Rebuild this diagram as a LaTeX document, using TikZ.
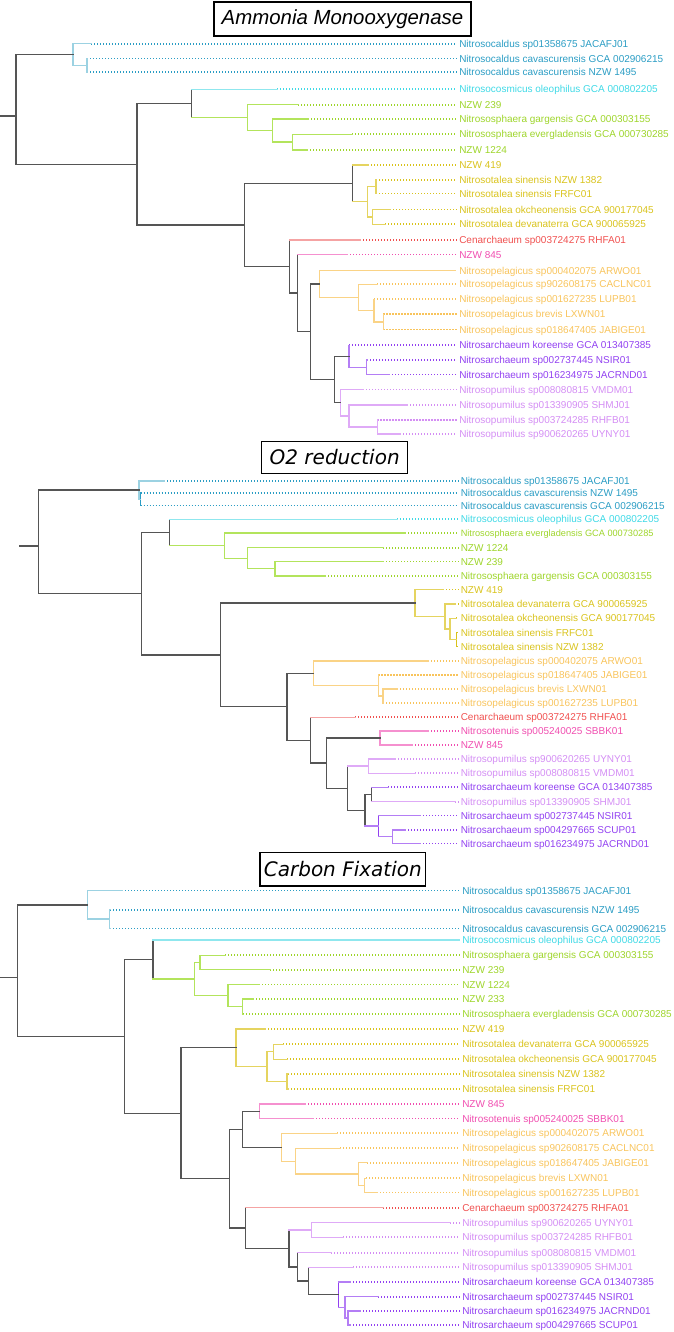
\documentclass[tikz,border=0pt]{standalone}
\usepackage{fontspec}
\setmainfont{Liberation Sans}
\newfontfamily\djv{DejaVu Sans}
\usetikzlibrary{calc}
\definecolor{cal}{HTML}{2B9DC4}\definecolor{calL}{HTML}{9CD2E2}
\definecolor{cos}{HTML}{3FD9E6}\definecolor{cosL}{HTML}{8FE7EE}
\definecolor{gr}{HTML}{9ED52B}\definecolor{grL}{HTML}{B3E45C}
\definecolor{ye}{HTML}{D9C31C}\definecolor{yeL}{HTML}{E5D460}
\definecolor{re}{HTML}{F0504F}\definecolor{reL}{HTML}{F5A3A3}
\definecolor{pk}{HTML}{F04EB0}\definecolor{pkL}{HTML}{F590CF}
\definecolor{or}{HTML}{F8C45C}\definecolor{orL}{HTML}{FAD386}
\definecolor{pu}{HTML}{9241F1}\definecolor{puL}{HTML}{B47EF5}
\definecolor{vi}{HTML}{D48EF4}\definecolor{viL}{HTML}{DFAAF7}
\definecolor{dk}{HTML}{555555}
\newcommand\lbfont{\fontsize{7.5}{9}\selectfont}
\tikzset{
  br/.style={line width=1pt, line cap=rect},
  dt/.style={line width=1.35pt, dash pattern=on 1.1pt off 1.15pt},
  lab/.style={inner sep=0pt, font=\lbfont, anchor=base west},
  ttl/.style={draw=black, line width=1.1pt, fill=white, inner sep=0pt},
}
% leaf: name, y, end of solid part (x), label colour, text
\newcommand\lf[5]{%
  \coordinate (#1) at (#3,#2);
  \node[lab,text=#4] (#1t) at (\LX,#2+3.6) {#5};
  \draw[dt,#4,shorten >=1.6pt] (#1) -- (#1t.west |- #1);}
% inner node: name, x, first child, last child, vertical colour, colour to child 1, colour to child 2
\newcommand\nd[7]{%
  \coordinate (#1m) at ($(#3)!.5!(#4)$);
  \coordinate (#1) at (#1m -| #2,0);
  \draw[br,#5] (#3 -| #1) -- (#4 -| #1);
  \draw[br,#6] (#3 -| #1) -- (#3);
  \draw[br,#7] (#4 -| #1) -- (#4);}
\begin{document}
\begin{tikzpicture}[x=0.75pt,y=-0.75pt]
\useasboundingbox (0,0) rectangle (674,1332);
% ================= Ammonia Monooxygenase =================
\def\LX{459}
\lf{A1}{43.7}{91}{cal}{Nitrosocaldus sp01358675 JACAFJ01}
\lf{A2}{58.5}{87}{cal}{Nitrosocaldus cavascurensis GCA 002906215}
\lf{A3}{72}{87}{cal}{Nitrosocaldus cavascurensis NZW 1495}
\nd{Aa}{87}{A2}{A3}{calL}{calL}{calL}
\nd{Ab}{73}{A1}{Aa}{calL}{calL}{calL}
\lf{A4}{89.3}{277}{cos}{Nitrosocosmicus oleophilus GCA 000802205}
\lf{A5}{104.8}{298}{gr}{NZW 239}
\lf{A6}{119}{308}{gr}{Nitrososphaera gargensis GCA 000303155}
\lf{A7}{134.3}{352}{gr}{Nitrososphaera evergladensis GCA 000730285}
\lf{A8}{150}{307}{gr}{NZW 1224}
\nd{Ac}{292.7}{A7}{A8}{grL}{grL}{grL}
\nd{Ad}{272.7}{A6}{Ac}{grL}{grL}{grL}
\nd{Ae}{247.7}{A5}{Ad}{grL}{grL}{grL}
\nd{Af}{191.7}{A4}{Ae}{dk}{cosL}{grL}
\lf{A9}{165}{368}{ye}{NZW 419}
\lf{A10}{180}{376}{ye}{Nitrosotalea sinensis NZW 1382}
\lf{A11}{193.5}{376}{ye}{Nitrosotalea sinensis FRFC01}
\lf{A12}{209.5}{390}{ye}{Nitrosotalea okcheonensis GCA 900177045}
\lf{A13}{224.3}{385}{ye}{Nitrosotalea devanaterra GCA 900065925}
\nd{Ag}{376}{A10}{A11}{yeL}{yeL}{yeL}
\nd{Ah}{372.7}{A12}{A13}{yeL}{yeL}{yeL}
\nd{Ai}{367.7}{Ag}{Ah}{yeL}{yeL}{yeL}
\nd{Aj}{352.7}{A9}{Ai}{dk}{yeL}{yeL}
\lf{A14}{240}{360}{re}{Cenarchaeum sp003724275 RHFA01}
\lf{A15}{254.5}{347}{pk}{NZW 845}
\lf{A16}{270.5}{455}{or}{Nitrosopelagicus sp000402075 ARWO01}
\lf{A17}{284.3}{377}{or}{Nitrosopelagicus sp902608175 CACLNC01}
\lf{A18}{299.3}{374}{or}{Nitrosopelagicus sp001627235 LUPB01}
\lf{A19}{314.3}{383.3}{or}{Nitrosopelagicus brevis LXWN01}
\lf{A20}{329.5}{383.3}{or}{Nitrosopelagicus sp018647405 JABIGE01}
\nd{Ak}{383.3}{A19}{A20}{orL}{orL}{orL}
\nd{Al}{374}{A18}{Ak}{orL}{orL}{orL}
\nd{Am}{358.3}{A17}{Al}{orL}{orL}{orL}
\nd{An}{319.3}{A16}{Am}{orL}{orL}{orL}
\lf{A21}{345.3}{349}{pu}{Nitrosarchaeum koreense GCA 013407385}
\lf{A22}{360}{367}{pu}{Nitrosarchaeum sp002737445 NSIR01}
\lf{A23}{374.5}{389}{pu}{Nitrosarchaeum sp016234975 JACRND01}
\nd{Ao}{366.7}{A22}{A23}{puL}{puL}{puL}
\nd{Ap}{349}{A21}{Ao}{puL}{puL}{puL}
\lf{A24}{389.5}{363}{vi}{Nitrosopumilus sp008080815 VMDM01}
\lf{A25}{405}{407}{vi}{Nitrosopumilus sp013390905 SHMJ01}
\lf{A26}{420}{377.3}{vi}{Nitrosopumilus sp003724285 RHFB01}
\lf{A27}{434}{400}{vi}{Nitrosopumilus sp900620265 UYNY01}
\nd{Aq}{377.3}{A26}{A27}{viL}{viL}{viL}
\nd{Ar}{349}{A25}{Aq}{viL}{viL}{viL}
\nd{As}{340.7}{A24}{Ar}{viL}{viL}{viL}
\nd{At}{334.7}{Ap}{As}{dk}{dk}{dk}
\nd{Au}{310.7}{An}{At}{dk}{dk}{dk}
\nd{Av}{297.3}{A15}{Au}{dk}{pkL}{dk}
\nd{Aw}{289.3}{A14}{Av}{dk}{reL}{dk}
\nd{Ax}{244.7}{Aj}{Aw}{dk}{dk}{dk}
\nd{Ay}{137}{Af}{Ax}{dk}{dk}{dk}
\nd{Az}{16}{Ab}{Ay}{dk}{dk}{dk}
\coordinate (A0) at (0,116);
\draw[br,dk] (A0) -- (A0 -| Az);
\node[ttl, minimum width={257*0.75pt}, minimum height={34*0.75pt},
  font=\fontsize{15.3}{18}\selectfont\itshape] (T1) at (342.5,19) {Ammonia Monooxygenase};
% ================= O2 reduction =================
\def\LX{460.5}
\lf{B1}{481}{164}{cal}{Nitrosocaldus sp01358675 JACAFJ01}
\lf{B2}{493}{140.5}{cal}{Nitrosocaldus cavascurensis NZW 1495}
\lf{B3}{505.5}{140.5}{cal}{Nitrosocaldus cavascurensis GCA 002906215}
\nd{Ba}{140.5}{B2}{B3}{cal}{calL}{calL}
\nd{Bb}{139}{B1}{Ba}{calL}{calL}{calL}
\lf{B4}{519.3}{397}{cos}{Nitrosocosmicus oleophilus GCA 000802205}
\lf{B5}{533}{405}{gr}{\fontsize{6.9}{8}\selectfont Nitrososphaera evergladensis GCA 000730285}
\lf{B6}{547.7}{383}{gr}{NZW 1224}
\lf{B7}{561.5}{383}{gr}{NZW 239}
\lf{B8}{576}{325}{gr}{Nitrososphaera gargensis GCA 000303155}
\nd{Bc}{275}{B7}{B8}{grL}{grL}{grL}
\nd{Bd}{247.3}{B6}{Bc}{grL}{grL}{grL}
\nd{Be}{224.7}{B5}{Bd}{grL}{grL}{grL}
\nd{Bf}{169.3}{B4}{Be}{dk}{cosL}{grL}
\lf{B9}{589.5}{443}{ye}{NZW 419}
\lf{B10}{604}{455}{ye}{Nitrosotalea devanaterra GCA 900065925}
\lf{B11}{618.3}{456}{ye}{Nitrosotalea okcheonensis GCA 900177045}
\lf{B12}{632.5}{456.5}{ye}{Nitrosotalea sinensis FRFC01}
\lf{B13}{646.5}{456.5}{ye}{Nitrosotalea sinensis NZW 1382}
\nd{Bg}{456.5}{B12}{B13}{ye}{ye}{ye}
\nd{Bh}{450}{B11}{Bg}{yeL}{yeL}{yeL}
\nd{Bi}{445}{B10}{Bh}{yeL}{yeL}{yeL}
\nd{Bj}{415}{B9}{Bi}{yeL}{yeL}{yeL}
\lf{B14}{661}{428}{or}{Nitrosopelagicus sp000402075 ARWO01}
\lf{B15}{675}{378.3}{or}{Nitrosopelagicus sp018647405 JABIGE01}
\lf{B16}{689}{397}{or}{Nitrosopelagicus brevis LXWN01}
\lf{B17}{703}{383}{or}{Nitrosopelagicus sp001627235 LUPB01}
\nd{Bk}{383}{B16}{B17}{orL}{orL}{orL}
\nd{Bl}{378.3}{B15}{Bk}{orL}{orL}{orL}
\nd{Bm}{313.3}{B14}{Bl}{orL}{orL}{orL}
\lf{B18}{717.3}{355}{re}{Cenarchaeum sp003724275 RHFA01}
\lf{B19}{731}{428}{pk}{Nitrosotenuis sp005240025 SBBK01}
\lf{B20}{745}{412}{pk}{NZW 845}
\nd{Bn}{380}{B19}{B20}{pkL}{pkL}{pkL}
\lf{B21}{759}{395}{vi}{Nitrosopumilus sp900620265 UYNY01}
\lf{B22}{773.3}{415}{vi}{Nitrosopumilus sp008080815 VMDM01}
\nd{Bo}{368.3}{B21}{B22}{viL}{viL}{viL}
\lf{B23}{787.3}{388}{pu}{Nitrosarchaeum koreense GCA 013407385}
\lf{B24}{801.7}{455}{vi}{Nitrosopumilus sp013390905 SHMJ01}
\nd{Bp}{371.7}{B23}{B24}{dk}{puL}{viL}
\lf{B25}{815.5}{420}{pu}{Nitrosarchaeum sp002737445 NSIR01}
\lf{B26}{830}{405}{pu}{Nitrosarchaeum sp004297665 SCUP01}
\lf{B27}{843.5}{420}{pu}{Nitrosarchaeum sp016234975 JACRND01}
\nd{Bq}{392.7}{B26}{B27}{puL}{puL}{puL}
\nd{Br}{378.3}{B25}{Bq}{pu}{puL}{puL}
\nd{Bs}{365}{Bp}{Br}{dk}{dk}{puL}
\nd{Bt}{347.3}{Bo}{Bs}{dk}{viL}{dk}
\nd{Bu}{326.3}{Bn}{Bt}{dk}{dk}{dk}
\nd{Bv}{310.7}{B18}{Bu}{dk}{reL}{dk}
\nd{Bw}{287}{Bm}{Bv}{dk}{dk}{dk}
\nd{Bx}{220.7}{Bj}{Bw}{dk}{dk}{dk}
\nd{By}{141.7}{Bf}{Bx}{dk}{dk}{dk}
\nd{Bz}{38.7}{Bb}{By}{dk}{dk}{dk}
\coordinate (B0) at (20,546);
\draw[br,dk] (B0) -- (B0 -| Bz);
\node[ttl, minimum width={146*0.75pt}, minimum height={31.6*0.75pt},
  font=\djv\fontsize{15}{18}\selectfont\itshape] (T2) at (334.7,457.5) {O2 reduction};
% ================= Carbon Fixation =================
\def\LX{462}
\lf{C1}{890.5}{122}{cal}{Nitrosocaldus sp01358675 JACAFJ01}
\lf{C2}{909.8}{110}{cal}{Nitrosocaldus cavascurensis NZW 1495}
\lf{C3}{928.5}{110}{cal}{Nitrosocaldus cavascurensis GCA 002906215}
\nd{Ca}{109.3}{C2}{C3}{calL}{calL}{calL}
\nd{Cb}{87.3}{C1}{Ca}{calL}{calL}{calL}
\lf{C4}{940}{459}{cos}{Nitrosocosmicus oleophilus GCA 000802205}
\lf{C5}{955.3}{225}{gr}{Nitrososphaera gargensis GCA 000303155}
\lf{C6}{969.8}{270}{gr}{NZW 239}
\nd{Cc}{200}{C5}{C6}{grL}{grL}{grL}
\lf{C7}{984.5}{259}{gr}{NZW 1224}
\lf{C8}{999}{253}{gr}{NZW 233}
\lf{C9}{1014.2}{243}{gr}{Nitrososphaera evergladensis GCA 000730285}
\nd{Cd}{242.7}{C8}{C9}{grL}{grL}{grL}
\nd{Ce}{228}{C7}{Cd}{grL}{grL}{grL}
\nd{Cf}{194.7}{Cc}{Ce}{grL}{grL}{grL}
\nd{Cg}{153}{C4}{Cf}{dk}{cosL}{grL}
\lf{C10}{1029}{265}{ye}{NZW 419}
\lf{C11}{1044.3}{283}{ye}{Nitrosotalea devanaterra GCA 900065925}
\lf{C12}{1059.2}{287}{ye}{Nitrosotalea okcheonensis GCA 900177045}
\lf{C13}{1073.8}{288}{ye}{Nitrosotalea sinensis NZW 1382}
\lf{C14}{1089}{288}{ye}{Nitrosotalea sinensis FRFC01}
\nd{Ch}{273.3}{C11}{C12}{yeL}{yeL}{yeL}
\nd{Ci}{287}{C13}{C14}{yeL}{yeL}{yeL}
\nd{Cj}{267}{Ch}{Ci}{yeL}{yeL}{yeL}
\nd{Ck}{236}{C10}{Cj}{yeL}{yeL}{yeL}
\lf{C15}{1104}{305}{pk}{NZW 845}
\lf{C16}{1118.5}{313}{pk}{Nitrosotenuis sp005240025 SBBK01}
\nd{Cl}{259.3}{C15}{C16}{pkL}{pkL}{pkL}
\lf{C17}{1133.3}{337}{or}{Nitrosopelagicus sp000402075 ARWO01}
\lf{C18}{1148.3}{340}{or}{Nitrosopelagicus sp902608175 CACLNC01}
\lf{C19}{1162.8}{367}{or}{Nitrosopelagicus sp018647405 JABIGE01}
\lf{C20}{1178.3}{366}{or}{Nitrosopelagicus brevis LXWN01}
\lf{C21}{1192.5}{377}{or}{Nitrosopelagicus sp001627235 LUPB01}
\nd{Cm}{364.3}{C20}{C21}{orL}{orL}{orL}
\nd{Cn}{358.7}{C19}{Cm}{orL}{orL}{orL}
\nd{Co}{295.3}{C18}{Cn}{orL}{orL}{orL}
\nd{Cp}{281.7}{C17}{Co}{orL}{orL}{orL}
\nd{Cq}{242.7}{Cl}{Cp}{dk}{dk}{dk}
\lf{C22}{1207.8}{383}{re}{Cenarchaeum sp003724275 RHFA01}
\lf{C23}{1222.7}{450}{vi}{Nitrosopumilus sp900620265 UYNY01}
\lf{C24}{1237.3}{343}{vi}{Nitrosopumilus sp003724285 RHFB01}
\nd{Cr}{311.7}{C23}{C24}{viL}{viL}{viL}
\lf{C25}{1252.7}{331}{vi}{Nitrosopumilus sp008080815 VMDM01}
\lf{C26}{1267.3}{353}{vi}{Nitrosopumilus sp013390905 SHMJ01}
\lf{C27}{1282}{350}{pu}{Nitrosarchaeum koreense GCA 013407385}
\lf{C28}{1296.8}{378}{pu}{Nitrosarchaeum sp002737445 NSIR01}
\lf{C29}{1311}{360}{pu}{Nitrosarchaeum sp016234975 JACRND01}
\lf{C30}{1325}{350}{pu}{Nitrosarchaeum sp004297665 SCUP01}
\nd{Cs}{348}{C29}{C30}{puL}{puL}{puL}
\nd{Ct}{345}{C28}{Cs}{puL}{puL}{puL}
\nd{Cu}{338.7}{C27}{Ct}{pu}{puL}{puL}
\nd{Cv}{308.7}{C26}{Cu}{dk}{viL}{dk}
\nd{Cw}{297.3}{C25}{Cv}{dk}{viL}{dk}
\nd{Cx}{289}{Cr}{Cw}{dk}{viL}{dk}
\nd{Cy}{245.7}{C22}{Cx}{dk}{reL}{dk}
\nd{Cz}{229.3}{Cq}{Cy}{dk}{dk}{dk}
\nd{CA}{181}{Ck}{Cz}{dk}{dk}{dk}
\nd{CB}{124.7}{Cg}{CA}{dk}{dk}{dk}
\nd{CC}{17.3}{Cb}{CB}{dk}{dk}{dk}
\coordinate (C0) at (0,977.3);
\draw[br,dk] (C0) -- (C0 -| CC);
\node[ttl, minimum width={165.7*0.75pt}, minimum height={33.3*0.75pt},
  font=\djv\fontsize{15}{18}\selectfont\itshape] (T3) at (342.8,869.3) {Carbon Fixation};
\end{tikzpicture}
\end{document}
